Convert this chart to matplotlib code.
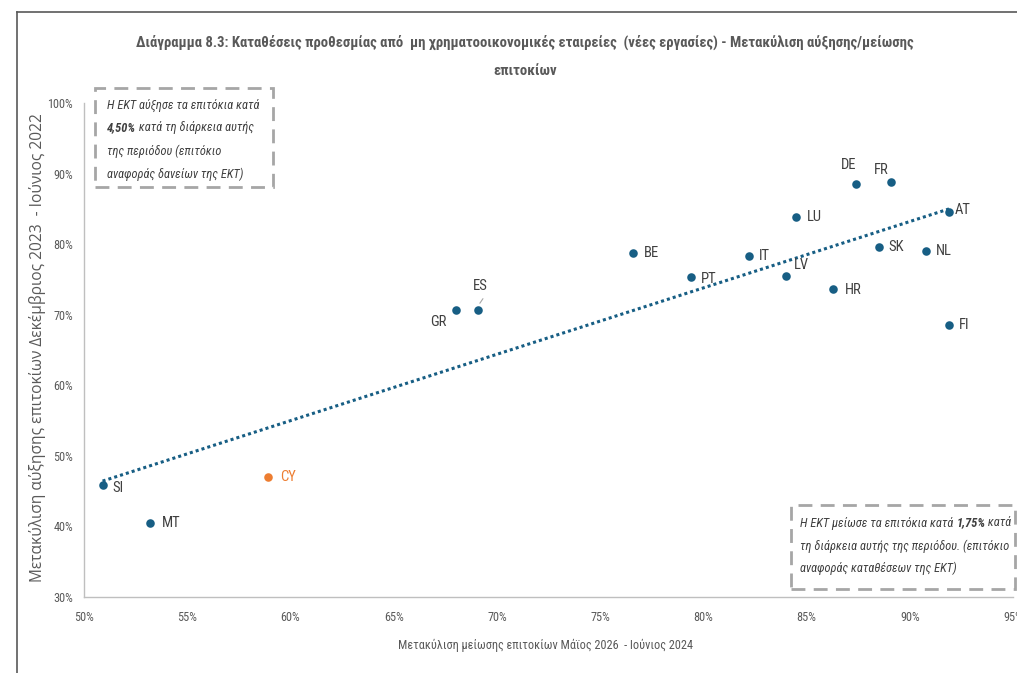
import numpy as np
import matplotlib
matplotlib.use("Agg")
import matplotlib.pyplot as plt
from matplotlib.patches import Rectangle
from matplotlib.lines import Line2D

# data (% values)
countries = ["SI", "MT", "GR", "ES", "BE", "PT", "IT", "LV", "LU", "HR",
             "DE", "FR", "SK", "NL", "AT", "FI"]
x_cut = [50.9, 53.2, 68.0, 69.1, 76.6, 79.4, 82.2, 84.0, 84.5, 86.3,
         87.4, 89.1, 88.5, 90.8, 91.9, 91.9]
y_hike = [45.9, 40.5, 70.7, 70.7, 78.7, 75.3, 78.3, 75.5, 83.8, 73.6,
          88.5, 88.8, 79.6, 79.0, 84.5, 68.5]
cy_x = [58.9]
cy_y = [47.0]

x_ticks = [50, 55, 60, 65, 70, 75, 80, 85, 90, 95]
y_ticks = [30, 40, 50, 60, 70, 80, 90, 100]

BLUE = "#175E84"
ORANGE = "#ED7D31"
TXT = "#404040"
GREY = "#595959"
NARROW = ["Roboto Condensed", "Liberation Sans", "DejaVu Sans"]

# label offsets in pixels (dx, dy, ha)
offs = {"SI": (10, -3, "left"), "MT": (12, 0, "left"), "GR": (-9, -12, "right"),
        "ES": (2, 24, "center"), "BE": (11, 0, "left"), "PT": (10, -2, "left"),
        "IT": (10, 0, "left"), "LV": (8, 11, "left"), "LU": (11, 0, "left"),
        "HR": (11, -1, "left"), "DE": (-7, 19, "center"), "FR": (-10, 12, "center"),
        "SK": (10, 0, "left"), "NL": (10, 0, "left"), "AT": (6, 2, "left"),
        "FI": (10, 0, "left")}

fig = plt.figure(figsize=(10.17, 6.73), dpi=100)
ax = fig.add_axes([84 / 1017, 1 - 597 / 673, 929 / 1017, 494 / 673])

ax.scatter(x_cut, y_hike, s=38, color=BLUE, zorder=3, linewidths=0)
ax.scatter(cy_x, cy_y, s=38, color=ORANGE, zorder=3, linewidths=0)

# linear trendline over all countries
all_x = np.array(x_cut + cy_x)
all_y = np.array(y_hike + cy_y)
k, b = np.polyfit(all_x, all_y, 1)
xs = np.array([all_x.min(), all_x.max()])
ax.plot(xs, k * xs + b, color=BLUE, lw=2.2, ls=(0, (1, 1)), zorder=2)

for name, xv, yv in zip(countries, x_cut, y_hike):
    dx, dy, ha = offs[name]
    ax.annotate(name, (xv, yv), xytext=(dx * 0.72, dy * 0.72), textcoords="offset points",
                ha=ha, va="center", fontsize=10.5, color=TXT, family=NARROW)
ax.annotate("", (69.1, 71.3), xytext=(69.4, 72.6),
            arrowprops=dict(arrowstyle="-", color="#A6A6A6", lw=0.8))
ax.annotate("CY", (cy_x[0], cy_y[0]), xytext=(12 * 0.72, 0), textcoords="offset points",
            ha="left", va="center", fontsize=10.5, color=ORANGE, family=NARROW)

ax.set_xlim(50, 95)
ax.set_ylim(30, 100)
ax.set_xticks(x_ticks)
ax.set_yticks(y_ticks)
ax.set_xticklabels([f"{t}%" for t in x_ticks], family=NARROW, fontsize=8.8, color=GREY)
ax.set_yticklabels([f"{t}%" for t in y_ticks], family=NARROW, fontsize=8.8, color=GREY)
ax.tick_params(length=0, pad=10)
ax.tick_params(axis="y", pad=8)
for s in ["top", "right"]:
    ax.spines[s].set_visible(False)
for s in ["left", "bottom"]:
    ax.spines[s].set_color("#BFBFBF")
    ax.spines[s].set_linewidth(1)

fig.text(546 / 1017, 1 - 645 / 673, "Μετακύλιση μείωσης επιτοκίων Μάϊος 2026  - Ιούνιος 2024",
         ha="center", va="center", fontsize=8.8, color=GREY, family=NARROW)
fig.text(38 / 1017, 1 - 348 / 673, "Μετακύλιση αύξησης επιτοκίων Δεκέμβριος 2023  - Ιούνιος 2022",
         ha="center", va="center", rotation=90, fontsize=11.2, color=GREY,
         family=["Open Sans", "DejaVu Sans"])

fig.text(525 / 1017, 1 - 42 / 673,
         "Διάγραμμα 8.3: Καταθέσεις προθεσμίας από  μη χρηματοοικονομικές εταιρείες  (νέες εργασίες) - Μετακύλιση αύξησης/μείωσης",
         ha="center", va="center", fontsize=10.6, fontweight="bold", color=GREY, family=NARROW)
fig.text(525 / 1017, 1 - 71 / 673, "επιτοκίων", ha="center", va="center",
         fontsize=10.6, fontweight="bold", color=GREY, family=NARROW)

# outer chart frame (cropped on right and bottom)
fig.add_artist(Line2D([17 / 1017, 1.0], [1 - 12 / 673] * 2, color="#595959", lw=1.2))
fig.add_artist(Line2D([17 / 1017] * 2, [0.0, 1 - 12 / 673], color="#595959", lw=1.2))

# dashed note boxes
def note_box(x0, y0, x1, y1):
    fig.add_artist(Rectangle((x0 / 1017, 1 - y1 / 673), (x1 - x0) / 1017, (y1 - y0) / 673,
                             transform=fig.transFigure, fill=True, fc="white",
                             ec="#A6A6A6", lw=2, ls=(0, (5, 3)), zorder=5))

def note_line(x, y, parts):
    prev = None
    for txt, bold in parts:
        kw = dict(fontsize=8.9, color=TXT, style="italic", family=NARROW,
                  fontweight="bold" if bold else "normal", va="center", ha="left", zorder=6)
        if prev is None:
            prev = fig.text(x / 1017, 1 - y / 673, txt, **kw)
        else:
            prev = fig.add_artist(plt.Annotation(txt, (1, 0.5), xycoords=prev,
                                                 xytext=(0, 0), textcoords="offset points", **kw))

note_box(95, 88, 273, 187)
note_line(107, 105, [("Η ΕΚΤ αύξησε τα επιτόκια κατά", False)])
note_line(107, 128, [("4,50%", True), (" κατά τη διάρκεια αυτής", False)])
note_line(107, 151, [("της περιόδου (επιτόκιο", False)])
note_line(107, 174, [("αναφοράς δανείων της ΕΚΤ)", False)])

note_box(791, 505, 1015, 589)
note_line(800, 523, [("Η ΕΚΤ μείωσε τα επιτόκια κατά ", False), ("1,75%", True), (" κατά", False)])
note_line(800, 546, [("τη διάρκεια αυτής της περιόδου. (επιτόκιο", False)])
note_line(800, 568, [("αναφοράς καταθέσεων της ΕΚΤ)", False)])

fig.savefig("out.png", dpi=100, facecolor="white")
